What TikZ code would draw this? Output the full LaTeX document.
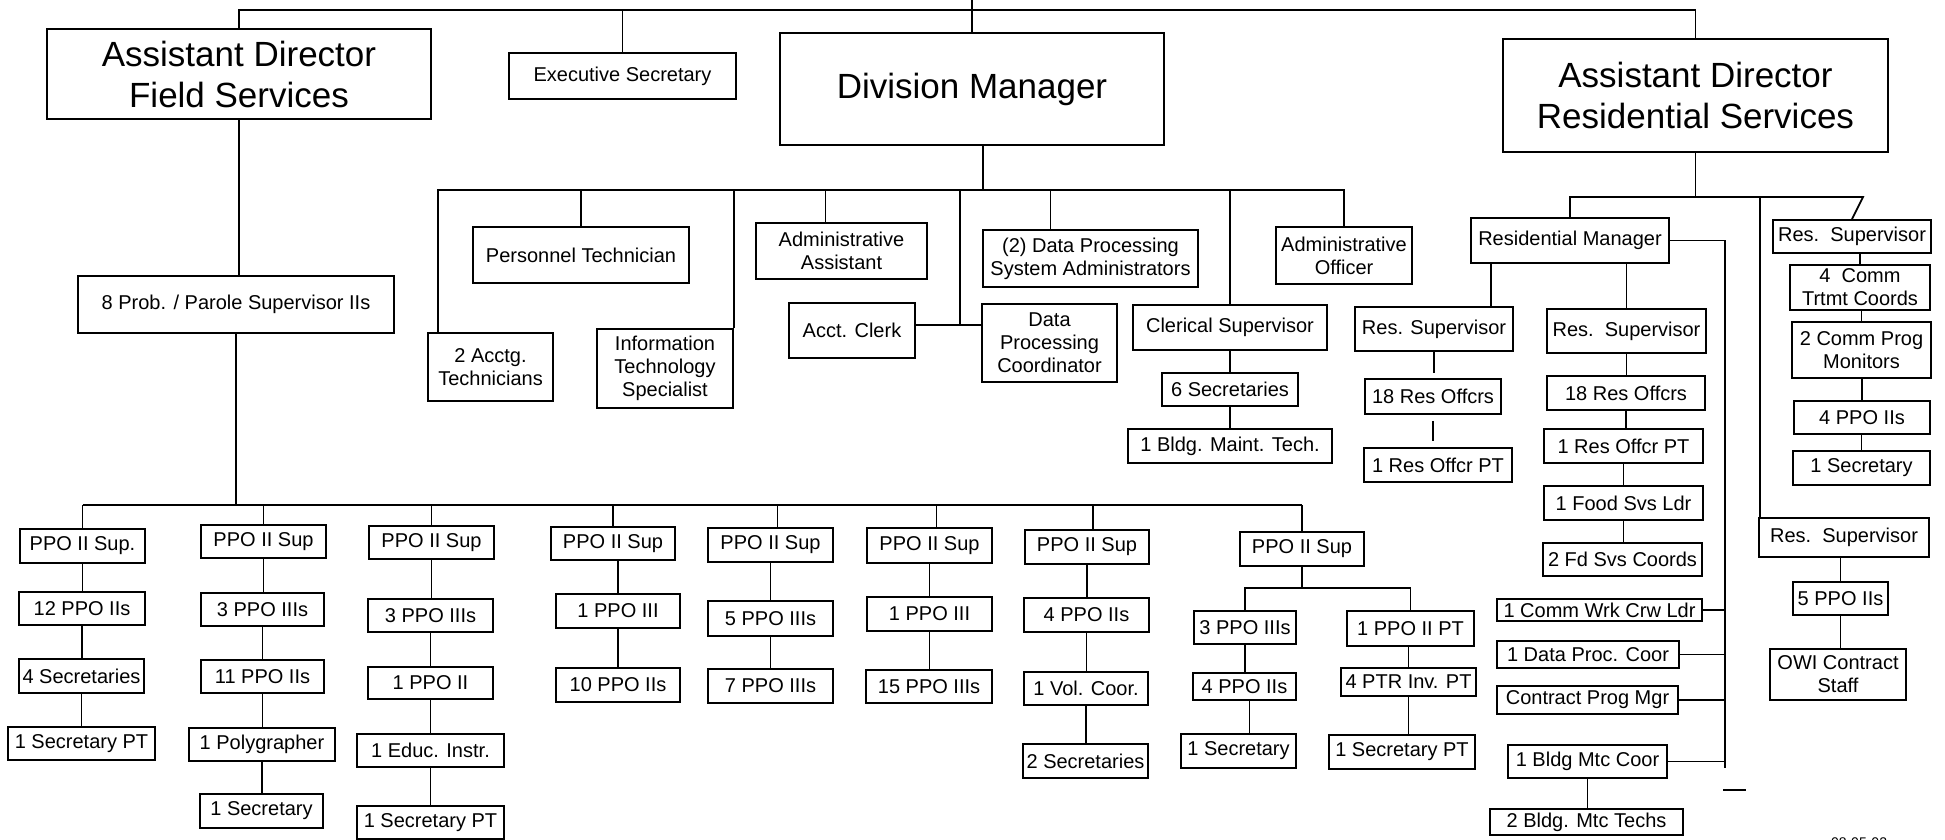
\documentclass[tikz,border=0pt]{standalone}
\usepackage{fontspec}
\setmainfont{Liberation Sans}
\begin{document}
\begin{tikzpicture}[x=1pt,y=-1pt,line width=1.8pt,
  orgbox/.style={draw, rectangle, inner sep=0pt, align=center, font=\fontsize{20}{23}\selectfont},
  orgbig/.style={draw, rectangle, inner sep=0pt, align=center, font=\fontsize{35}{41}\selectfont}]
\newcommand{\ob}[6]{\node[orgbox, minimum width={(#4)-(#2)}, minimum height={(#5)-(#3)}] (#1) at ({((#2)+(#4))/2},{((#3)+(#5))/2}) {#6};}
\newcommand{\obb}[6]{\node[orgbig, minimum width={(#4)-(#2)}, minimum height={(#5)-(#3)}] (#1) at ({((#2)+(#4))/2},{((#3)+(#5))/2}) {#6};}
\useasboundingbox (0,0) rectangle (1945,840);
\fill[white] (0,0) rectangle (1945,840);

% top level
\obb{adfs}{47}{29}{431}{119}{Assistant Director\\Field Services}
\ob{execsec}{509}{53}{736}{99}{Executive Secretary}
\obb{dm}{780}{33}{1164}{145}{Division Manager}
\obb{adrs}{1503}{39}{1888}{152}{Assistant Director\\Residential Services}
\ob{prob}{78}{276}{394}{333}{8 Prob. / Parole Supervisor IIs}

% division manager staff
\ob{pers}{473}{227}{689}{283}{Personnel Technician}
\ob{acctg}{428}{333}{553}{401}{2 Acctg.\\Technicians}
\ob{its}{597}{329}{733}{408}{Information\\Technology\\Specialist}
\ob{adminasst}{756}{223}{927}{279}{Administrative\\Assistant}
\ob{acctclerk}{789}{303}{915}{358}{Acct. Clerk}
\ob{dpc}{982}{304}{1117}{382}{Data\\Processing\\Coordinator}
\ob{dpsa}{983}{230}{1198}{287}{(2) Data Processing\\System Administrators}
\ob{clerical}{1133}{305}{1327}{350}{Clerical Supervisor}
\ob{sixsec}{1162}{373}{1298}{406}{6 Secretaries}
\ob{bldgmaint}{1128}{429}{1332}{463}{1 Bldg. Maint. Tech.}
\ob{adminoff}{1276}{227}{1412}{284}{Administrative\\Officer}

% residential
\ob{resmgr}{1471}{218}{1669}{263}{Residential Manager}
\ob{rs1}{1355}{307}{1513}{351}{Res. Supervisor}
\ob{ro1}{1365}{379}{1501}{414}{18 Res Offcrs}
\ob{rpt1}{1364}{448}{1512}{482}{1 Res Offcr PT}
\ob{rs2}{1547}{309}{1706}{353}{Res.\ \ Supervisor}
\ob{ro2}{1547}{376}{1705}{410}{18 Res Offcrs}
\ob{rpt2}{1544}{429}{1703}{463}{1 Res Offcr PT}
\ob{food}{1544}{486}{1703}{520}{1 Food Svs Ldr}
\ob{fdcoord}{1543}{543}{1702}{576}{2 Fd Svs Coords}
\ob{crw}{1497}{599}{1702}{621}{1 Comm Wrk Crw Ldr}
\ob{dataproc}{1497}{641}{1679}{668}{1 Data Proc. Coor}
\ob{contract}{1497}{686}{1678}{714}{Contract Prog Mgr}
\ob{bmc}{1508}{745}{1667}{778}{1 Bldg Mtc Coor}
\ob{bmt}{1490}{809}{1683}{835}{2 Bldg. Mtc Techs}
\ob{rs3}{1773}{220}{1931}{253}{Res.\ \ Supervisor}
\ob{ctc}{1790}{265}{1930}{310}{4\ \ Comm\\Trtmt Coords}
\ob{cpm}{1792}{322}{1931}{378}{2 Comm Prog\\Monitors}
\ob{ppofr}{1794}{401}{1930}{434}{4 PPO IIs}
\ob{secr}{1793}{451}{1930}{485}{1 Secretary}
\ob{rs4}{1759}{518}{1929}{557}{Res.\ \ Supervisor}
\ob{ppofive}{1793}{582}{1888}{615}{5 PPO IIs}
\ob{owi}{1770}{649}{1906}{700}{OWI Contract\\Staff}

% field columns
\ob{ca1}{20}{529}{145}{563}{PPO II Sup.}
\ob{ca2}{19}{592}{145}{625}{12 PPO IIs}
\ob{ca3}{19}{659}{144}{693}{4 Secretaries}
\ob{ca4}{8}{727}{155}{760}{1 Secretary PT}
\ob{cb1}{201}{525}{326}{558}{PPO II Sup}
\ob{cb2}{201}{593}{324}{626}{3 PPO IIIs}
\ob{cb3}{201}{660}{324}{693}{11 PPO IIs}
\ob{cb4}{189}{728}{335}{761}{1 Polygrapher}
\ob{cb5}{200}{794}{323}{828}{1 Secretary}
\ob{cc1}{369}{526}{494}{559}{PPO II Sup}
\ob{cc2}{368}{599}{493}{632}{3 PPO IIIs}
\ob{cc3}{368}{667}{493}{699}{1 PPO II}
\ob{cc4}{357}{734}{504}{767}{1 Educ. Instr.}
\ob{cc5}{357}{806}{504}{839}{1 Secretary PT}
\ob{cd1}{551}{527}{675}{560}{PPO II Sup}
\ob{cd2}{556}{594}{680}{628}{1 PPO III}
\ob{cd3}{556}{668}{680}{702}{10 PPO IIs}
\ob{ce1}{708}{528}{833}{562}{PPO II Sup}
\ob{ce2}{708}{601}{833}{636}{5 PPO IIIs}
\ob{ce3}{708}{669}{833}{703}{7 PPO IIIs}
\ob{cf1}{867}{528}{992}{563}{PPO II Sup}
\ob{cf2}{867}{597}{992}{631}{1 PPO III}
\ob{cf3}{866}{670}{992}{703}{15 PPO IIIs}
\ob{cg1}{1025}{530}{1149}{564}{PPO II Sup}
\ob{cg2}{1024}{598}{1149}{632}{4 PPO IIs}
\ob{cg3}{1024}{672}{1148}{705}{1 Vol. Coor.}
\ob{cg4}{1023}{744}{1148}{778}{2 Secretaries}
\ob{ch1}{1240}{532}{1364}{566}{PPO II Sup}
\ob{ch2}{1194}{611}{1296}{644}{3 PPO IIIs}
\ob{ch3}{1193}{673}{1296}{700}{4 PPO IIs}
\ob{ch4}{1181}{734}{1296}{768}{1 Secretary}
\ob{ch5}{1347}{611}{1474}{646}{1 PPO II PT}
\ob{ch6}{1341}{668}{1476}{696}{4 PTR Inv. PT}
\ob{ch7}{1329}{735}{1475}{769}{1 Secretary PT}

\node[font=\fontsize{14}{16}\selectfont, inner sep=0pt] (date) at (1859,843) {08-05-02};

% buses
\coordinate (top) at (0,10);
\coordinate (pagetop) at (0,0);
\coordinate (dbus) at (0,190);
\coordinate (rbus) at (0,197);
\coordinate (fbus) at (0,505);
\coordinate (sbus) at (0,588);
\coordinate (jn) at (960,325);
\coordinate (rmv) at (1725,768);
\coordinate (dasha) at (1723,790);
\coordinate (dashb) at (1746,790);

% top connections
\draw (adfs.north) -- (adfs.north |- top) -- (adrs.north |- top) -- (adrs.north);
\draw (execsec.north) -- (execsec.north |- top);
\draw (dm.north) -- (dm.north |- pagetop);
\draw (adfs.south) -- (adfs.south |- prob.north);

% division manager
\draw ([xshift=11pt]dm.south) -- ([xshift=11pt]dm.south |- dbus);
\draw ([xshift=11pt]acctg.north west) -- ([xshift=11pt]acctg.north west |- dbus) -- (adminoff.north |- dbus) -- (adminoff.north);
\draw (pers.north) -- (pers.north |- dbus);
\draw (its.north east) -- (its.north east |- dbus);
\draw ([xshift=-16pt]adminasst.north) -- ([xshift=-16pt]adminasst.north |- dbus);
\draw (jn |- dbus) -- (jn);
\draw (acctclerk.east |- jn) -- (dpc.west |- jn);
\draw ([xshift=-40pt]dpsa.north) -- ([xshift=-40pt]dpsa.north |- dbus);
\draw (clerical.north) -- (clerical.north |- dbus);
\draw (clerical.south) -- (clerical.south |- sixsec.north);
\draw (sixsec.south) -- (sixsec.south |- bldgmaint.north);

% residential
\draw (adrs.south) -- (adrs.south |- rbus);
\draw (resmgr.north) -- (resmgr.north |- rbus) -- ([xshift=11pt]rs3.north |- rbus) -- (rs3.north);
\draw ([xshift=2pt]rs4.north west |- rbus) -- ([xshift=2pt]rs4.north west);
\draw ([xshift=21pt]resmgr.south west) -- ([xshift=21pt]resmgr.south west |- rs1.north);
\draw (rs2.north |- resmgr.south) -- (rs2.north);
\draw[shorten >=5pt] (rs1.south) -- (rs1.south |- ro1.north);
\draw[shorten >=6pt, shorten <=6pt] (ro1.south) -- (ro1.south |- rpt1.north);
\draw (rs2.south) -- (rs2.south |- ro2.north);
\draw (ro2.south) -- (ro2.south |- rpt2.north);
\draw (rpt2.south) -- (rpt2.south |- food.north);
\draw (food.south) -- (food.south |- fdcoord.north);
\draw (resmgr.east) -| (rmv);
\draw (crw.east) -- (crw.east -| rmv);
\draw (dataproc.east) -- (dataproc.east -| rmv);
\draw (contract.east) -- (contract.east -| rmv);
\draw (bmc.east) -- (bmc.east -| rmv);
\draw (bmc.south) -- (bmc.south |- bmt.north);
\draw (dasha) -- (dashb);
\draw (ctc.north |- rs3.south) -- (ctc.north);
\draw (cpm.north |- ctc.south) -- (cpm.north);
\draw (ppofr.north |- cpm.south) -- (ppofr.north);
\draw (secr.north |- ppofr.south) -- (secr.north);
\draw (ppofive.north |- rs4.south) -- (ppofive.north);
\draw (ppofive.south) -- (ppofive.south |- owi.north);

% field services
\draw (prob.south) -- (prob.south |- fbus);
\draw (ca1.north |- fbus) -- (ch1.north |- fbus);
\draw (ca1.north) -- (ca1.north |- fbus);
\draw (cb1.north) -- (cb1.north |- fbus);
\draw (cc1.north) -- (cc1.north |- fbus);
\draw (cd1.north) -- (cd1.north |- fbus);
\draw ([xshift=7pt]ce1.north) -- ([xshift=7pt]ce1.north |- fbus);
\draw ([xshift=7pt]cf1.north) -- ([xshift=7pt]cf1.north |- fbus);
\draw ([xshift=6pt]cg1.north) -- ([xshift=6pt]cg1.north |- fbus);
\draw (ch1.north) -- (ch1.north |- fbus);

\draw (ca1.south) -- (ca1.south |- ca2.north);
\draw (ca2.south) -- (ca2.south |- ca3.north);
\draw (ca3.south) -- (ca3.south |- ca4.north);
\draw (cb1.south) -- (cb1.south |- cb2.north);
\draw (cb2.south) -- (cb2.south |- cb3.north);
\draw (cb3.south) -- (cb3.south |- cb4.north);
\draw (cb4.south) -- (cb4.south |- cb5.north);
\draw (cc1.south) -- (cc1.south |- cc2.north);
\draw (cc2.south) -- (cc2.south |- cc3.north);
\draw (cc3.south) -- (cc3.south |- cc4.north);
\draw (cc4.south) -- (cc4.south |- cc5.north);
\draw (cd2.north |- cd1.south) -- (cd2.north);
\draw (cd2.south) -- (cd2.south |- cd3.north);
\draw (ce1.south) -- (ce1.south |- ce2.north);
\draw (ce2.south) -- (ce2.south |- ce3.north);
\draw (cf1.south) -- (cf1.south |- cf2.north);
\draw (cf2.south) -- (cf2.south |- cf3.north);
\draw (cg1.south) -- (cg1.south |- cg2.north);
\draw (cg2.south) -- (cg2.south |- cg3.north);
\draw (cg3.south) -- (cg3.south |- cg4.north);
\draw (ch1.south) -- (ch1.south |- sbus);
\draw (ch2.north) -- (ch2.north |- sbus) -- (ch5.north |- sbus) -- (ch5.north);
\draw (ch2.south) -- (ch2.south |- ch3.north);
\draw ([xshift=5pt]ch3.south) -- ([xshift=5pt]ch3.south |- ch4.north);
\draw (ch5.south -| ch6.north) -- (ch6.north);
\draw (ch6.south) -- (ch6.south |- ch7.north);
\end{tikzpicture}
\end{document}
